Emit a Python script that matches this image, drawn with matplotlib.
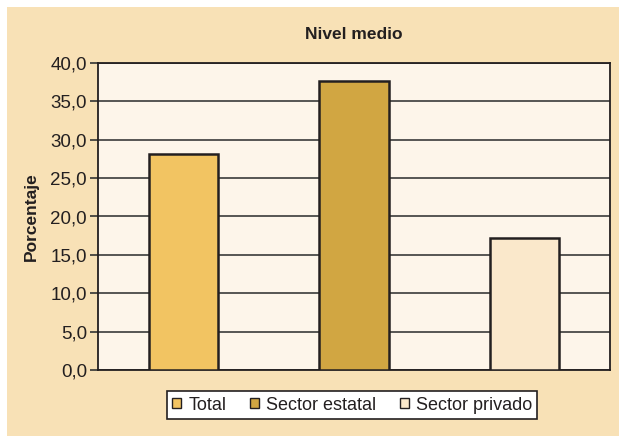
import matplotlib.pyplot as plt
from matplotlib.patches import Rectangle
from matplotlib.ticker import FuncFormatter

plt.rcParams['font.family'] = ['Liberation Sans', 'DejaVu Sans']

categories = ['Total', 'Sector estatal', 'Sector privado']
values = [28.2, 37.6, 17.2]
colors = ['#F2C462', '#D1A642', '#FAE8CB']
yticks = [0, 5, 10, 15, 20, 25, 30, 35, 40]

fig = plt.figure(figsize=(6.19, 4.36), dpi=100)
fig.patch.set_facecolor('#F8E1B6')
# white margin along the top and left edges
fig.patches.append(Rectangle((0, 1 - 7 / 436), 1, 7 / 436, transform=fig.transFigure,
                             facecolor='white', edgecolor='none', zorder=-10))
fig.patches.append(Rectangle((0, 0), 7 / 619, 1, transform=fig.transFigure,
                             facecolor='white', edgecolor='none', zorder=-10))

ax = fig.add_axes([98 / 619, 66 / 436, 512 / 619, 307 / 436])
ax.set_facecolor('#FDF5EA')
x = range(len(categories))
bars = ax.bar(x, values, width=0.405, color=colors, edgecolor='#231F20', linewidth=1.8,
              zorder=3)
ax.set_xlim(-0.5, 2.5)
ax.set_ylim(0, 40)
ax.set_yticks(yticks)
ax.yaxis.set_major_formatter(FuncFormatter(lambda v, p: f'{v:.1f}'.replace('.', ',')))
ax.grid(axis='y', color='#3a3a3a', linewidth=1.2, zorder=1)
ax.set_xticks([])
ax.tick_params(axis='y', length=6, width=1.2, color='#333333', labelsize=13.5,
               labelcolor='#231F20', pad=2)
for s in ax.spines.values():
    s.set_color('#231F20')
    s.set_linewidth(1.3)
ax.set_ylabel('Porcentaje', fontsize=12.5, fontweight='bold', color='#231F20', labelpad=8)
ax.set_title('Nivel medio', fontsize=12.5, fontweight='bold', color='#231F20', pad=17)

leg = fig.legend(bars, categories, loc='center', bbox_to_anchor=(352 / 619, 1 - 405 / 436),
                 ncol=3, fontsize=13, frameon=True, fancybox=False, framealpha=1,
                 handlelength=0.5, handleheight=0.5, handletextpad=0.4, columnspacing=1.3,
                 borderpad=0.3, labelcolor='#231F20')
leg.get_frame().set_edgecolor('#231F20')
leg.get_frame().set_linewidth(1.2)
leg.get_frame().set_facecolor('white')
for h in leg.legend_handles:
    h.set_linewidth(1.0)

fig.savefig('out.png', dpi=100, facecolor=fig.get_facecolor())
